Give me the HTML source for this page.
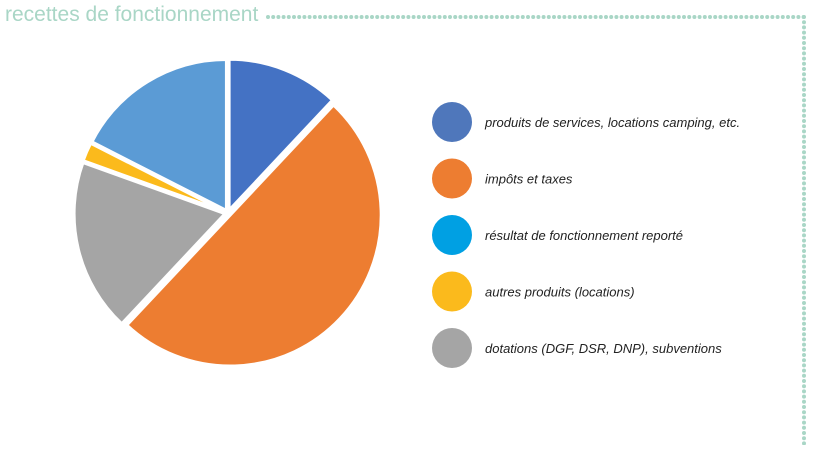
<!DOCTYPE html>
<html><head><meta charset="utf-8"><style>
body{margin:0;width:821px;height:445px;background:#fff;overflow:hidden;font-family:"Liberation Sans",sans-serif}
</style></head><body>
<svg width="821" height="445">
<text x="5" y="21" font-size="21" font-family="Liberation Sans, sans-serif" fill="#a9d6c6">recettes de fonctionnement</text>
<line x1="268" y1="17" x2="804" y2="17" stroke="#a9d6c6" stroke-width="4" stroke-linecap="round" stroke-dasharray="0 5.2"/>
<line x1="804" y1="17" x2="804" y2="445" stroke="#a9d6c6" stroke-width="4" stroke-linecap="round" stroke-dasharray="0 5.2"/>
<g id="pie"></g>
<g id="legend"></g>
</svg>
<script>
const labels=["produits de services, locations camping, etc.","impôts et taxes","résultat de fonctionnement reporté","autres produits (locations)","dotations (DGF, DSR, DNP), subventions"];
const values=[12,50,0,2,18.5];
const legendColors=["#4f77bb","#ed7d31","#00a0e3","#fbba1c","#a5a5a5"];
// pie draws slices in this order (clockwise from top)
const pieOrder=[0,1,4,3,2];
const extraSlice=17.5; // light-blue slice (reported result as drawn)
const sliceColors={0:"#4472c4",1:"#ed7d31",2:"#5b9bd5",3:"#fbba1c",4:"#a5a5a5"};
const ns="http://www.w3.org/2000/svg";
const cx=228,cy=213,r=151;
const vals=values.slice();vals[2]=values[2]||extraSlice;
const total=vals.reduce((a,b)=>a+b,0);
const pie=document.getElementById('pie');
let a=0;
pieOrder.forEach(i=>{
  const ang=vals[i]/total*2*Math.PI;
  const a0=a,a1=a+ang;a=a1;
  const mid=(a0+a1)/2,off=3;
  const ox=cx+off*Math.sin(mid),oy=cy-off*Math.cos(mid);
  const x0=ox+r*Math.sin(a0),y0=oy-r*Math.cos(a0),x1=ox+r*Math.sin(a1),y1=oy-r*Math.cos(a1);
  const p=document.createElementNS(ns,'path');
  p.setAttribute('d',`M${ox},${oy}L${x0},${y0}A${r},${r} 0 ${ang>Math.PI?1:0} 1 ${x1},${y1}Z`);
  p.setAttribute('fill',sliceColors[i]);
  p.setAttribute('stroke','#fff');p.setAttribute('stroke-width','3');
  
  
  pie.appendChild(p);
});
const lg=document.getElementById('legend');
labels.forEach((t,i)=>{
  const y=122+i*56.5;
  const c=document.createElementNS(ns,'circle');
  c.setAttribute('cx',452);c.setAttribute('cy',y);c.setAttribute('r',20);c.setAttribute('fill',legendColors[i]);
  
  
  lg.appendChild(c);
  const tx=document.createElementNS(ns,'text');
  tx.setAttribute('x',485);tx.setAttribute('y',y+5);tx.setAttribute('font-size','13');tx.setAttribute('font-style','italic');tx.setAttribute('fill','#222');
  tx.textContent=t;
  
  
  lg.appendChild(tx);
});
</script>
</body></html>
